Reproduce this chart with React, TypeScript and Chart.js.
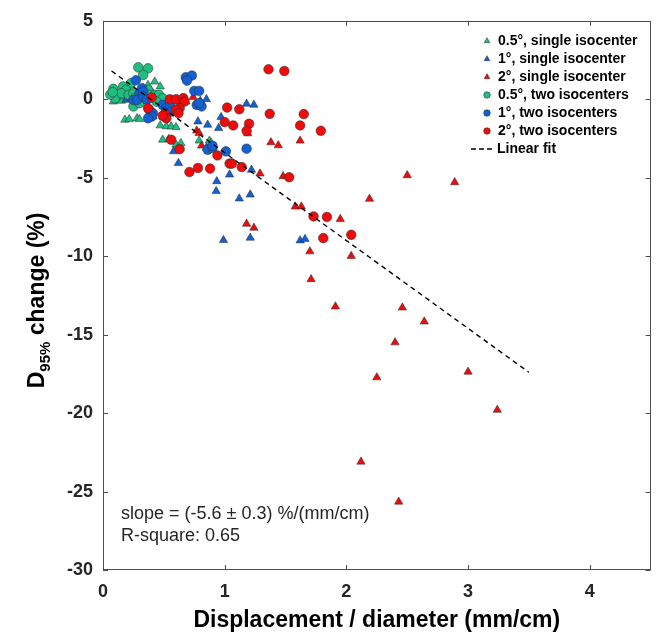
import React, { useEffect, useRef } from "react";
import { Chart, registerables } from "chart.js";

Chart.register(...registerables);

const FONT = "'Liberation Sans', Arial, Helvetica, sans-serif";

// ---- axes ----
const xTicks = [0, 1, 2, 3, 4];
const yTicks = [5, 0, -5, -10, -15, -20, -25, -30];
const xMin = 0;
const xMax = 4.5;
const yMin = -30;
const yMax = 5;
const xTitle = "Displacement / diameter (mm/cm)";
const yTitleMain = "D";
const yTitleSub = "95%";
const yTitleRest = " change (%)";

// ---- legend / annotation text ----
const seriesLabels = [
  "0.5°, single isocenter",
  "1°, single isocenter",
  "2°, single isocenter",
  "0.5°, two isocenters",
  "1°, two isocenters",
  "2°, two isocenters",
];
const fitLabel = "Linear fit";
const annotationLines = ["slope = (-5.6 ± 0.3) %/(mm/cm)", "R-square: 0.65"];

// ---- data: [displacement/diameter, D95% change] ----
const deg05Single: number[][] = [
  [0.085, -0.15], [0.125, 0.03], [0.15, -0.1], [0.22, 0.49], [0.33, 0.7], [0.37, 0.91],
  [0.425, 1.12], [0.47, 0.81], [0.41, 0.38], [0.45, 0.1], [0.1, 0.35], [0.2, 0.15], [0.27, 0.3],
  [0.18, -1.31], [0.215, -1.27], [0.28, -1.21], [0.3, -1.27],
  [0.47, -1.67], [0.52, -1.73], [0.56, -1.73], [0.6, -1.78],
  [0.49, -2.58], [0.54, -2.54], [0.6, -2.9], [0.64, -2.8], [0.79, -2.64], [0.875, -2.64], [0.89, -2.8],
];
const deg1Single: number[][] = [
  [0.19, -0.04], [0.23, 0.06], [0.29, -0.25], [0.32, -0.1], [0.38, -1.21], [0.41, -1.1],
  [0.53, -0.04], [0.63, -0.15], [0.68, -0.15], [0.85, 0.0], [0.8, -0.1],
  [1.18, -0.29], [1.24, -0.36], [0.97, -1.14], [0.78, -1.42], [0.86, -1.63], [0.95, -1.84],
  [0.58, -3.32], [0.62, -4.07], [1.04, -4.8], [0.935, -5.23], [0.93, -5.86], [1.12, -6.33],
  [1.21, -6.08], [1.22, -4.5], [0.99, -8.98], [1.21, -8.83], [1.62, -9.0], [1.66, -8.91], [0.85, -3.1],
];
const deg2Single: number[][] = [
  [0.74, 0.13], [0.77, -2.0], [0.79, -2.16], [0.81, -2.96], [1.19, -2.18], [1.38, -2.75],
  [1.44, -2.94], [1.62, -2.64], [1.29, -4.74], [1.48, -4.91], [2.5, -4.85], [2.89, -5.29],
  [2.19, -6.35], [1.58, -6.84], [1.63, -6.84], [1.95, -7.64], [1.18, -7.94], [1.24, -8.19],
  [1.7, -9.7], [2.04, -9.99], [1.71, -11.47], [1.91, -13.21], [2.46, -13.28], [2.64, -14.17],
  [2.4, -15.5], [2.25, -17.73], [3.0, -17.37], [3.24, -19.8], [2.12, -23.1], [2.43, -25.65],
];
const deg05Two: number[][] = [
  [0.29, 2.03], [0.37, 1.97], [0.33, 1.55], [0.23, 1.02], [0.085, 0.66], [0.125, 0.28],
  [0.1, 0.06], [0.166, 0.81], [0.19, 0.6], [0.15, 0.38], [0.21, 0.28], [0.25, 0.38],
  [0.26, 0.06], [0.25, -0.46], [0.3, -0.25], [0.34, 0.49], [0.37, 0.6], [0.38, 0.28],
  [0.425, 0.28], [0.46, 0.28], [0.49, 0.06], [0.44, -0.15], [0.06, 0.3], [0.08, 0.45],
];
const deg1Two: number[][] = [
  [0.27, 1.21], [0.68, 1.4], [0.73, 1.51], [0.69, 1.19], [0.75, 0.53], [0.79, 0.53],
  [0.77, -0.36], [0.81, -0.46], [0.79, -0.25], [0.86, -3.22], [0.9, -3.11], [0.9, -2.96],
  [1.01, -3.32], [1.18, -3.15], [0.3, 0.38], [0.32, 0.7], [0.33, 0.49], [0.25, -0.04],
  [0.28, -0.04], [0.33, 0.17], [0.36, -0.04], [0.38, -0.67], [0.41, -0.89], [0.4, -1.1],
  [0.37, -1.21], [0.49, -0.36], [0.52, -0.57], [0.55, -0.36], [0.56, -0.78],
];
const deg2Two: number[][] = [
  [1.36, 1.91], [1.49, 1.8], [1.02, -0.53], [1.12, -0.64], [1.37, -0.93], [1.65, -0.95],
  [1.0, -1.46], [1.07, -1.67], [1.2, -1.56], [1.18, -2.01], [1.62, -1.67], [1.79, -2.01],
  [0.94, -3.58], [1.04, -4.1], [1.06, -4.1], [1.14, -4.32], [0.88, -4.42], [0.78, -4.38],
  [0.71, -4.64], [1.53, -4.97], [1.73, -7.47], [1.84, -7.5], [2.04, -8.64], [1.81, -8.85],
  [0.56, -2.58], [0.63, -3.18], [0.55, 0.0], [0.6, 0.0], [0.66, 0.07], [0.67, -0.15],
  [0.4, 0.11], [0.51, -0.93], [0.52, -1.21], [0.49, -1.05], [0.63, -0.57], [0.6, -0.67],
  [0.62, -0.89], [0.37, -0.57],
];
const fitLine: number[][] = [[0.07, 1.8], [3.5, -17.4]];

const GREEN = "#1fbf7f";
const BLUE = "#1160d6";
const RED = "#f00a0a";
const EDGE = "rgba(45,45,45,0.9)";

const seriesData = [deg05Single, deg1Single, deg2Single, deg05Two, deg1Two, deg2Two];
const seriesColors = [GREEN, BLUE, RED, GREEN, BLUE, RED];
const seriesShapes = ["triangle", "triangle", "triangle", "circle", "circle", "circle"];

function drawMarker(ctx: CanvasRenderingContext2D, shape: string, x: number, y: number, r: number, color: string) {
  ctx.beginPath();
  if (shape === "circle") {
    ctx.arc(x, y, r, 0, Math.PI * 2);
  } else {
    ctx.moveTo(x, y - r);
    ctx.lineTo(x + r * 0.866, y + r * 0.5);
    ctx.lineTo(x - r * 0.866, y + r * 0.5);
    ctx.closePath();
  }
  ctx.fillStyle = color;
  ctx.fill();
  ctx.lineWidth = 0.6;
  ctx.strokeStyle = EDGE;
  ctx.stroke();
}

const decorPlugin = {
  id: "decor",
  afterDraw(chart: any) {
    const ctx: CanvasRenderingContext2D = chart.ctx;
    const a = chart.chartArea;
    const xs = chart.scales.x;
    const ys = chart.scales.y;
    ctx.save();
    // box
    ctx.strokeStyle = "#4d4d4d";
    ctx.lineWidth = 1;
    ctx.strokeRect(Math.round(a.left) + 0.5, Math.round(a.top) + 0.5, Math.round(a.right - a.left) - 1, Math.round(a.bottom - a.top) - 1);
    // inward ticks
    const tl = 5;
    ctx.beginPath();
    xTicks.forEach((v) => {
      const px = Math.round(xs.getPixelForValue(v)) + 0.5;
      ctx.moveTo(px, a.bottom);
      ctx.lineTo(px, a.bottom - tl);
      ctx.moveTo(px, a.top);
      ctx.lineTo(px, a.top + tl);
    });
    yTicks.forEach((v) => {
      const py = Math.round(ys.getPixelForValue(v)) + 0.5;
      ctx.moveTo(a.left, py);
      ctx.lineTo(a.left + tl, py);
      ctx.moveTo(a.right, py);
      ctx.lineTo(a.right - tl, py);
    });
    ctx.stroke();

    // x title
    ctx.fillStyle = "#000";
    ctx.font = `bold 23px ${FONT}`;
    ctx.textAlign = "center";
    ctx.textBaseline = "middle";
    ctx.fillText(xTitle, (a.left + a.right) / 2, 621);

    // y title with subscript
    ctx.save();
    ctx.translate(38, (a.top + a.bottom) / 2 + 5);
    ctx.rotate(-Math.PI / 2);
    ctx.textAlign = "left";
    ctx.textBaseline = "middle";
    const mainFont = `bold 23px ${FONT}`;
    const subFont = `bold 15px ${FONT}`;
    ctx.font = mainFont;
    const w1 = ctx.measureText(yTitleMain).width;
    const w3 = ctx.measureText(yTitleRest).width;
    ctx.font = subFont;
    const w2 = ctx.measureText(yTitleSub).width;
    const total = w1 + w2 + w3;
    let cx = -total / 2;
    ctx.font = mainFont;
    ctx.fillText(yTitleMain, cx, 0);
    cx += w1;
    ctx.font = subFont;
    ctx.fillText(yTitleSub, cx, 8);
    cx += w2;
    ctx.font = mainFont;
    ctx.fillText(yTitleRest, cx, 0);
    ctx.restore();

    // annotation
    ctx.fillStyle = "#262626";
    ctx.font = `18px ${FONT}`;
    ctx.textAlign = "left";
    ctx.textBaseline = "middle";
    ctx.fillText(annotationLines[0], a.left + 18, 514);
    ctx.fillText(annotationLines[1], a.left + 18, 536);

    // legend
    const rowY0 = 41;
    const rowH = 18;
    const markX = 487;
    const textX = 498;
    ctx.font = `bold 14px ${FONT}`;
    ctx.fillStyle = "#000";
    seriesLabels.forEach((lab, i) => {
      const yy = rowY0 + i * rowH;
      drawMarker(ctx, seriesShapes[i], markX, yy, 3.3, seriesColors[i]);
      ctx.fillStyle = "#000";
      ctx.fillText(lab, textX, yy);
    });
    const fy = rowY0 + 6 * rowH;
    ctx.beginPath();
    ctx.setLineDash([5, 3]);
    ctx.strokeStyle = "#000";
    ctx.lineWidth = 1.3;
    ctx.moveTo(471, fy);
    ctx.lineTo(494, fy);
    ctx.stroke();
    ctx.setLineDash([]);
    ctx.fillStyle = "#000";
    ctx.fillText(fitLabel, 497, fy);
    ctx.restore();
  },
};

export default function App() {
  const ref = useRef<HTMLCanvasElement | null>(null);
  useEffect(() => {
    if (!ref.current) return;
    const scatterSets = seriesData.map((d, i) => ({
      type: "scatter" as const,
      label: seriesLabels[i],
      data: d.map((p) => ({ x: p[0], y: p[1] })),
      pointStyle: seriesShapes[i],
      pointRadius: 4.8,
      pointBackgroundColor: seriesColors[i],
      pointBorderColor: EDGE,
      pointBorderWidth: 0.6,
      order: 10 - i,
    }));
    const chart = new Chart(ref.current, {
      type: "scatter",
      data: {
        datasets: [
          ...scatterSets,
          {
            type: "line" as const,
            label: fitLabel,
            data: fitLine.map((p) => ({ x: p[0], y: p[1] })),
            borderColor: "#000",
            borderWidth: 1.4,
            borderDash: [5, 4],
            pointRadius: 0,
            showLine: true,
            fill: false,
            order: 0,
          },
        ],
      } as any,
      options: {
        animation: false,
        responsive: false,
        devicePixelRatio: 1,
        layout: { padding: { left: 0, top: 19, right: 4, bottom: 0 } },
        plugins: { legend: { display: false }, tooltip: { enabled: false } },
        scales: {
          x: {
            type: "linear",
            min: xMin,
            max: xMax,
            grid: { display: false, drawTicks: false },
            border: { display: false },
            afterBuildTicks: (s: any) => {
              s.ticks = xTicks.map((v) => ({ value: v }));
            },
            afterFit: (s: any) => {
              s.height = 64;
            },
            ticks: {
              padding: 11,
              color: "#262626",
              font: { family: FONT, size: 18, weight: "bold" },
              callback: (v: any) => String(v),
            },
          },
          y: {
            type: "linear",
            min: yMin,
            max: yMax,
            grid: { display: false, drawTicks: false },
            border: { display: false },
            afterBuildTicks: (s: any) => {
              s.ticks = yTicks.map((v) => ({ value: v }));
            },
            afterFit: (s: any) => {
              s.width = 103;
            },
            ticks: {
              padding: 10,
              color: "#262626",
              font: { family: FONT, size: 18, weight: "bold" },
              callback: (v: any) => String(v),
            },
          },
        },
      } as any,
      plugins: [decorPlugin],
    });
    return () => chart.destroy();
  }, []);
  return (
    <div style={{ position: "absolute", left: 0, top: 0, width: 656, height: 634, background: "#fff" }}>
      <canvas ref={ref} width={656} height={634} style={{ display: "block" }} />
    </div>
  );
}
